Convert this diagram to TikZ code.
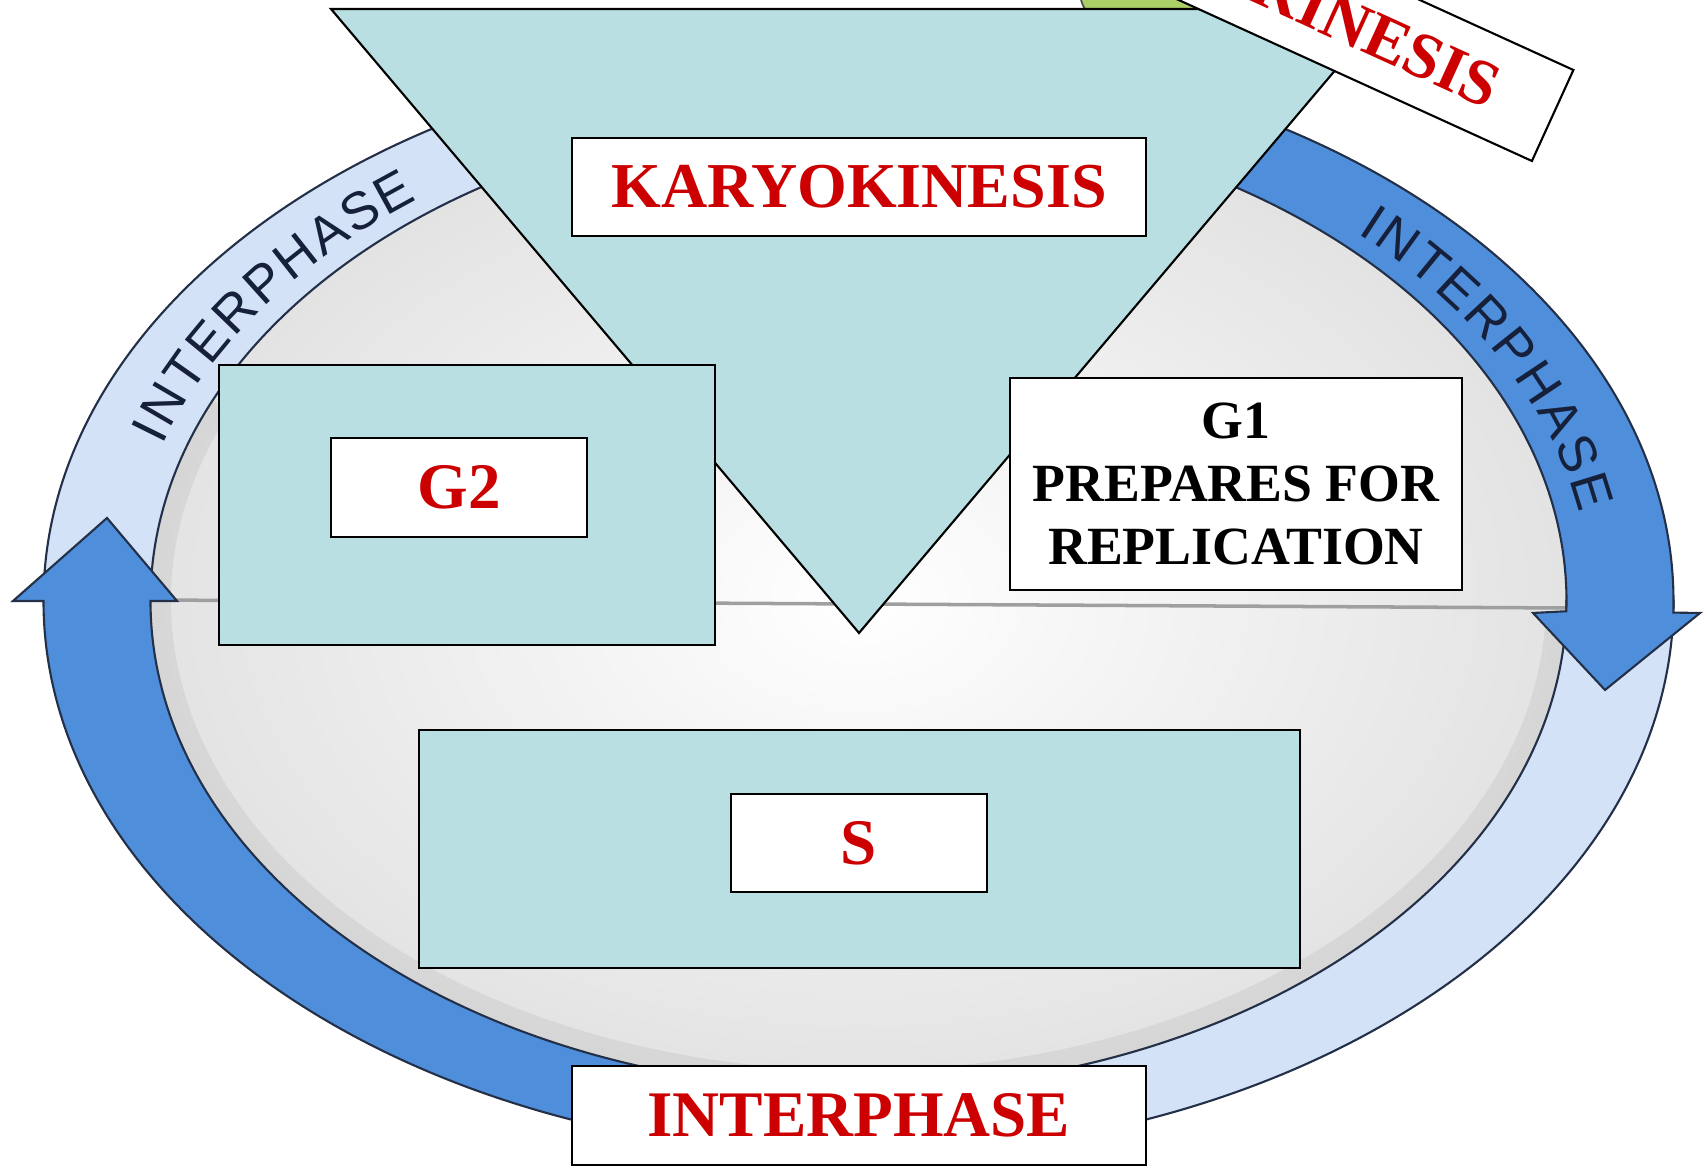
\documentclass[tikz,border=0pt]{standalone}
\usepackage{fontspec}
\setmainfont{Liberation Serif}
\newfontfamily\ringfont{Liberation Sans}
\usetikzlibrary{calc,decorations.text}
\definecolor{tealfill}{RGB}{185,223,226}
\definecolor{labelred}{RGB}{204,0,0}
\definecolor{darkband}{RGB}{78,142,218}
\definecolor{lightband}{RGB}{212,226,248}
\definecolor{bandline}{RGB}{35,48,72}
\definecolor{ringtext}{RGB}{22,32,58}
\definecolor{cellgreen}{RGB}{172,208,104}
\tikzset{
  tealbox/.style={draw, fill=tealfill, line width=0.6pt, inner sep=0pt},
  whitebox/.style={draw, fill=white, line width=0.6pt, inner sep=0pt,
    font=\bfseries\fontsize{18.5}{20}\selectfont, text=labelred},
  band/.style={draw=bandline, line width=0.6pt},
}

\begin{document}
\begin{tikzpicture}
\useasboundingbox (0,0) rectangle (17.04,11.67);
\clip (0,0) rectangle (17.04,11.67);
\coordinate (c) at (8.585,5.66);
% disc of the cycle
\shade[inner color=white, outer color=gray!22] (c) ellipse [x radius=7.08cm, y radius=4.89cm];
\draw[gray!50, line width=6pt, opacity=.35] ($(c)+(156:6.98cm and 4.80cm)$) arc[start angle=156, end angle=358, x radius=6.98cm, y radius=4.80cm];
\coordinate (ml) at (1.50,5.67);
\coordinate (mr) at (15.67,5.59);
\draw[gray!75, line width=1pt] (ml) -- (mr);
% light parts of the ring
\foreach \a/\b in {90/180, 270/360}{
\filldraw[band, fill=lightband] ($(c)+(\a:8.15cm and 5.54cm)$) arc[start angle=\a, end angle=\b, x radius=8.15cm, y radius=5.54cm]
  -- ($(c)+(\b:7.08cm and 4.89cm)$) arc[start angle=\b, end angle=\a, x radius=7.08cm, y radius=4.89cm] -- cycle;
}
% dark parts with arrows
\filldraw[band, fill=darkband] ($(c)+(270:7.08cm and 4.89cm)$) arc[start angle=270, end angle=180, x radius=7.08cm, y radius=4.89cm]
  -- (1.77,5.66) -- (1.07,6.49) -- (0.13,5.66)
  -- ($(c)+(180:8.15cm and 5.54cm)$) arc[start angle=180, end angle=270, x radius=8.15cm, y radius=5.54cm] -- cycle;
\filldraw[band, fill=darkband] ($(c)+(90:8.15cm and 5.54cm)$) arc[start angle=90, end angle=-1.2, x radius=8.15cm, y radius=5.54cm]
  -- (17.00,5.54) -- (16.05,4.77) -- (15.33,5.54)
  -- ($(c)+(-1.2:7.08cm and 4.89cm)$) arc[start angle=-1.2, end angle=90, x radius=7.08cm, y radius=4.89cm] -- cycle;
\foreach \a/\b in {162/127, 47/10}{
\path[decorate, decoration={text along path, text align=fit to path, text color=ringtext,
  text={|\ringfont\fontsize{15}{15}\selectfont|INTERPHASE}}]
  ($(c)+(\a:7.32cm and 5.03cm)$) arc[start angle=\a, end angle=\b, x radius=7.32cm, y radius=5.03cm];
}
% top of the page
\filldraw[fill=cellgreen, draw=black!70, line width=0.5pt] (12.0,11.75) ellipse [x radius=1.2cm, y radius=0.6cm];
\filldraw[fill=tealfill, line width=0.6pt] (3.31,11.58) -- (13.87,11.58) -- (8.59,5.34) -- cycle;
\node[whitebox, minimum width=5.74cm, minimum height=1cm, rotate=-24.5] (cy) at (12.915,11.705) {CYTOKINESIS};
\node[whitebox, minimum width=5.74cm, minimum height=0.98cm, font=\bfseries\fontsize{18.2}{20}\selectfont] (k) at (8.59,9.80) {KARYOKINESIS};
% phases
\node[tealbox, minimum width=4.96cm, minimum height=2.80cm] (g2) at (4.67,6.62) {};
\node[whitebox, minimum width=2.56cm, minimum height=0.99cm] (g2l) at (4.59,6.795) {G2};
\node[draw, fill=white, line width=0.6pt, minimum width=4.52cm, minimum height=2.12cm, align=center,
  font=\bfseries\fontsize{15.3}{18}\selectfont] (g1) at (12.36,6.83) {G1\\PREPARES FOR\\REPLICATION};
\node[tealbox, minimum width=8.81cm, minimum height=2.38cm] (s) at (8.595,3.18) {};
\node[whitebox, minimum width=2.56cm, minimum height=0.98cm] (sl) at (8.59,3.24) {S};
\node[whitebox, minimum width=5.74cm, minimum height=0.99cm] (i) at (8.59,0.515) {INTERPHASE};
\end{tikzpicture}
\end{document}
